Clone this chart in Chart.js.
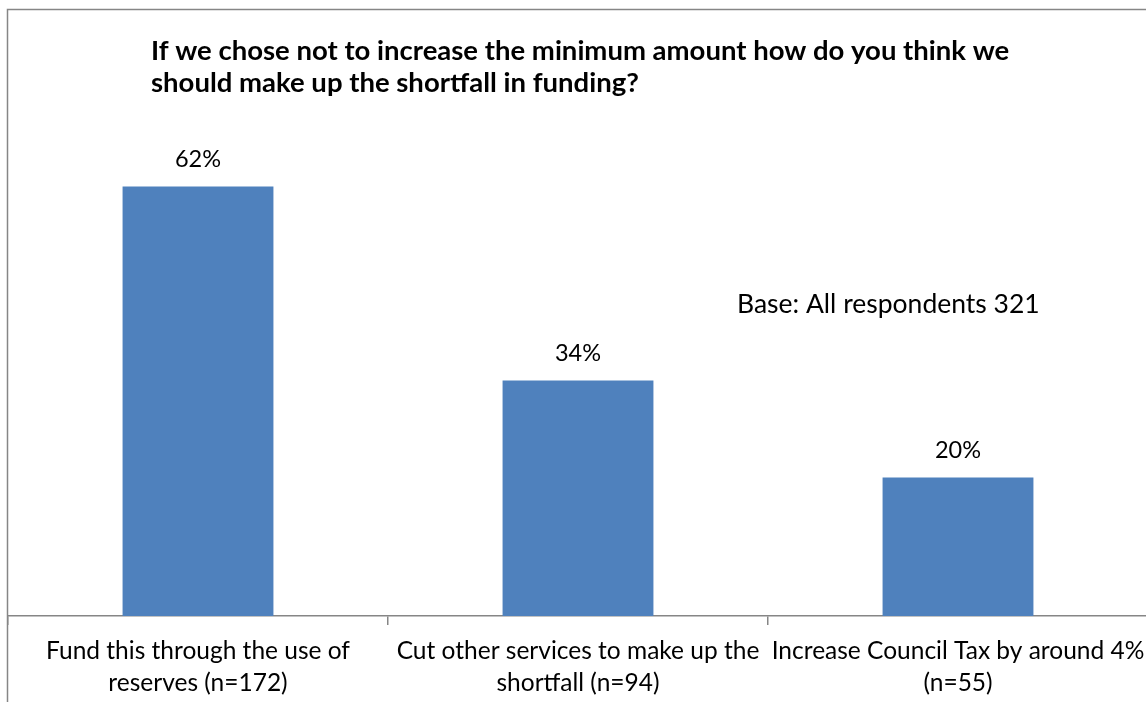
<!DOCTYPE html>
<html>
<head>
<meta charset="utf-8">
<title>Shortfall in funding</title>
<script src="https://cdn.jsdelivr.net/npm/chart.js"></script>
<style>
    body { margin: 0; background: #ffffff; overflow: hidden; }
    #wrap { position: relative; width: 1150px; height: 702px; }
</style>
</head>
<body>
<div id="wrap"><canvas id="graficoFinanciamento"></canvas></div>
<script>
const categorias = [
    ['Fund this through the use of', 'reserves (n=172)'],
    ['Cut other services to make up the', 'shortfall (n=94)'],
    ['Increase Council Tax by around 4%', '(n=55)']
];
const percentuais = [62, 34, 20];
const tituloLinhas = [
    'If we chose not to increase the minimum amount how do you think we',
    'should make up the shortfall in funding?'
];
const notaBase = 'Base: All respondents 321';

const fonte = 'Lato, "Open Sans", sans-serif';

// moldura cinza, título e nota de base
const moldura = {
    id: 'moldura',
    beforeDraw(chart) {
        const c = chart.ctx;
        c.save();
        c.strokeStyle = '#868686';
        c.lineWidth = 1.5;
        c.beginPath();
        c.moveTo(7.5, 720);
        c.lineTo(7.5, 9.5);
        c.lineTo(1160, 9.5);
        c.stroke();
        c.restore();
    },
    afterDraw(chart) {
        const c = chart.ctx;
        c.save();
        c.fillStyle = '#000000';
        c.textBaseline = 'alphabetic';
        c.textAlign = 'left';
        c.font = 'bold 27.5px ' + fonte;
        tituloLinhas.forEach((linha, i) => c.fillText(linha, 151, 60 + i * 32));
        c.font = '26.5px ' + fonte;
        c.fillText(notaBase, 737, 313);
        c.restore();
    }
};

// rótulo de valor em cima de cada barra
const rotulos = {
    id: 'rotulos',
    afterDatasetsDraw(chart) {
        const c = chart.ctx;
        const meta = chart.getDatasetMeta(0);
        c.save();
        c.fillStyle = '#000000';
        c.font = '23.5px ' + fonte;
        c.textAlign = 'center';
        c.textBaseline = 'alphabetic';
        meta.data.forEach((barra, i) => {
            c.fillText(percentuais[i] + '%', barra.x, barra.y - 19);
        });
        c.restore();
    }
};

const ctx = document.getElementById('graficoFinanciamento');

new Chart(ctx, {
    type: 'bar',
    data: {
        labels: categorias,
        datasets: [
            {
                data: percentuais,
                backgroundColor: '#4F81BD',
                borderWidth: 0,
                categoryPercentage: 1,
                barPercentage: 0.397
            }
        ]
    },
    options: {
        responsive: true,
        maintainAspectRatio: false,
        animation: false,
        layout: { padding: { left: 8, right: 2, top: 131, bottom: 0 } },
        plugins: {
            legend: { display: false },
            title: { display: false },
            tooltip: { enabled: false }
        },
        scales: {
            x: {
                offset: true,
                border: { color: '#868686', width: 1.5 },
                grid: {
                    offset: true,
                    drawOnChartArea: false,
                    drawTicks: true,
                    tickLength: 9,
                    color: '#868686',
                    lineWidth: 1.5
                },
                ticks: {
                    color: '#000000',
                    font: { family: fonte, size: 24.5, lineHeight: 1.3 },
                    padding: 10,
                    maxRotation: 0,
                    autoSkip: false
                },
                afterFit(scale) {
                    // rótulos largos não devem encolher a área das barras
                    scale.height = 86;
                    scale.paddingLeft = 0;
                    scale.paddingRight = 0;
                }
            },
            y: {
                display: false,
                min: 0,
                max: 70
            }
        }
    },
    plugins: [moldura, rotulos]
});
</script>
</body>
</html>
